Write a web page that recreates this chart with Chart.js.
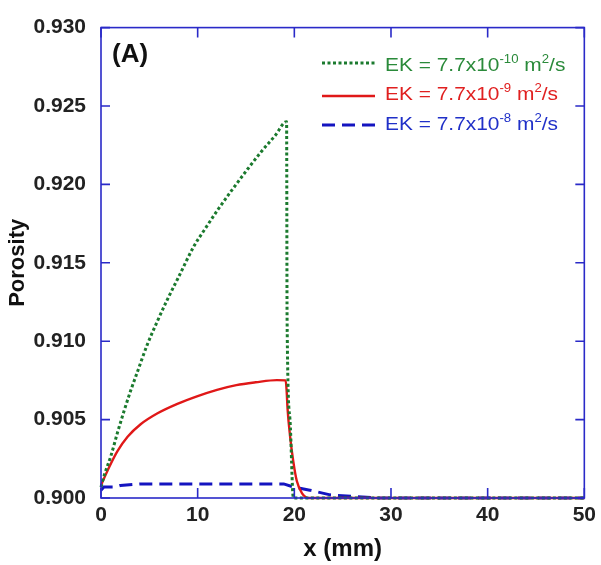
<!DOCTYPE html>
<html>
<head>
<meta charset="utf-8">
<script src="https://cdn.jsdelivr.net/npm/chart.js@4.4.1/dist/chart.umd.min.js"></script>
<style>
html,body{margin:0;padding:0;background:#fff;}
#wrap{width:601px;height:565px;}
</style>
</head>
<body>
<div id="wrap"><canvas id="c" width="601" height="565"></canvas></div>
<script>
// ---- data ----
const greenX = [0, 0.35, 1.03, 1.72, 2.41, 3.1, 3.8, 4.8, 5.85, 6.9, 7.95, 9.65, 10.7, 12.1, 13.5, 15.2, 16.6, 18.0, 19.2, 19.25, 19.55, 19.9, 50];
const greenY = [0.9007, 0.90148, 0.9027, 0.9042, 0.9056, 0.9069, 0.9081, 0.9098, 0.9113, 0.9127, 0.9140, 0.9161, 0.9171, 0.9184, 0.9196, 0.9210, 0.9221, 0.9231, 0.9240, 0.9115, 0.9050, 0.9000, 0.9000];

const redX = [0, 0.35, 1.03, 1.72, 2.75, 4.1, 5.85, 7.9, 10, 12, 14, 16, 18.2, 19.1, 19.2, 19.3, 19.55, 19.9, 20.25, 20.8, 21.5, 50];
const redY = [0.9008, 0.9013, 0.9022, 0.9030, 0.9039, 0.9047, 0.9054, 0.9060, 0.9065, 0.9069, 0.9072, 0.90738, 0.90752, 0.9075, 0.9069, 0.9057, 0.9040, 0.9023, 0.9011, 0.9003, 0.9000, 0.9000];

const blueX = [0, 0.3, 1.5, 2.0, 4.0, 10, 15, 18.9, 19.9, 21.6, 23.7, 26.1, 28.5, 50];
const blueY = [0.9005, 0.9007, 0.9007, 0.9008, 0.9009, 0.9009, 0.9009, 0.9009, 0.9007, 0.9005, 0.9002, 0.9001, 0.9000, 0.9000];

const xTicks = [0, 10, 20, 30, 40, 50];
const yTicks = [0.900, 0.905, 0.910, 0.915, 0.920, 0.925, 0.930];

const legendRows = [
  {base: 'EK = 7.7x10', exp: '-10'},
  {base: 'EK = 7.7x10', exp: '-9'},
  {base: 'EK = 7.7x10', exp: '-8'}
];
// ---------------------------------------

const zip = (xs, ys) => xs.map((x, i) => ({x: x, y: ys[i]}));
const FONT = '"Liberation Sans", Arial, Helvetica, sans-serif';
const AXIS = '#2a2ac8';
const styles = [
  {line: '#1b7a2e', text: '#2a8a3a', dash: [3, 2.5], width: 3, mono: true},
  {line: '#e01818', text: '#e02020', dash: [], width: 2.4, mono: true},
  {line: '#1414c0', text: '#2030c8', dash: [13, 7], width: 3, mono: false}
];

const framePlugin = {
  id: 'frame',
  afterDatasetsDraw(chart) {
    const {ctx, chartArea: a, scales} = chart;
    ctx.save();
    ctx.strokeStyle = AXIS;
    ctx.lineWidth = 1.6;
    ctx.strokeRect(a.left, a.top, a.right - a.left, a.bottom - a.top);
    ctx.beginPath();
    yTicks.forEach(v => {
      const y = scales.y.getPixelForValue(v);
      ctx.moveTo(a.left, y); ctx.lineTo(a.left + 9, y);
      ctx.moveTo(a.right, y); ctx.lineTo(a.right - 9, y);
    });
    xTicks.forEach(v => {
      const x = scales.x.getPixelForValue(v);
      ctx.moveTo(x, a.bottom); ctx.lineTo(x, a.bottom - 10);
      ctx.moveTo(x, a.top); ctx.lineTo(x, a.top + 10);
    });
    ctx.stroke();
    ctx.restore();
  },
  afterDraw(chart) {
    const {ctx, chartArea: a} = chart;
    ctx.save();
    // panel label
    ctx.fillStyle = '#111';
    ctx.font = 'bold 26px ' + FONT;
    ctx.textBaseline = 'alphabetic';
    ctx.fillText('(A)', a.left + 11, a.top + 34);
    // legend
    const lineY = [63, 96, 125];
    const baseY = [71, 100, 130];
    const lineX0 = 322, lineX1 = 375, textX = 385;
    const SX = 1.1;
    legendRows.forEach((r, i) => {
      const s = styles[i];
      ctx.beginPath();
      ctx.strokeStyle = s.line;
      ctx.lineWidth = s.width;
      ctx.setLineDash(s.dash);
      ctx.moveTo(lineX0, lineY[i]); ctx.lineTo(lineX1, lineY[i]);
      ctx.stroke();
      ctx.setLineDash([]);
      ctx.save();
      ctx.translate(textX, baseY[i]);
      ctx.scale(SX, 1);
      ctx.fillStyle = s.text;
      let x = 0;
      const parts = [[r.base, 19, 0], [r.exp, 12, -8], [' m', 19, 0], ['2', 12, -8], ['/s', 19, 0]];
      parts.forEach(p => {
        ctx.font = p[1] + 'px ' + FONT;
        ctx.fillText(p[0], x, p[2]);
        x += ctx.measureText(p[0]).width;
      });
      ctx.restore();
    });
    ctx.restore();
  }
};

new Chart(document.getElementById('c'), {
  type: 'line',
  data: {
    datasets: [0, 1, 2].map(i => {
      const xs = [greenX, redX, blueX][i], ys = [greenY, redY, blueY][i], s = styles[i];
      const d = {data: zip(xs, ys), borderColor: s.line, borderWidth: s.width, borderDash: s.dash,
        pointRadius: 0, fill: false, tension: 0, clip: 6};
      if (s.mono) d.cubicInterpolationMode = 'monotone';
      return d;
    })
  },
  options: {
    responsive: false,
    animation: false,
    devicePixelRatio: 1,
    layout: {padding: {left: 0, right: 16, top: 17, bottom: 0}},
    plugins: {legend: {display: false}, tooltip: {enabled: false}},
    scales: {
      x: {
        type: 'linear', min: 0, max: 50,
        afterBuildTicks: s => { s.ticks = xTicks.map(v => ({value: v})); },
        afterFit: s => { s.height = 67; },
        grid: {display: false, drawTicks: false},
        border: {display: false},
        ticks: {color: '#222', font: {family: FONT, size: 21, weight: 'bold'}, padding: 5, maxRotation: 0},
        title: {display: true, text: 'x (mm)', color: '#111', font: {family: FONT, size: 24, weight: 'bold'}, padding: {top: 0, bottom: 1}}
      },
      y: {
        type: 'linear', min: 0.9, max: 0.93,
        afterBuildTicks: s => { s.ticks = yTicks.map(v => ({value: v})); },
        afterFit: s => { s.width = 101; },
        grid: {display: false, drawTicks: false},
        border: {display: false},
        ticks: {color: '#222', font: {family: FONT, size: 21, weight: 'bold'}, padding: 15, callback: v => v.toFixed(3)},
        title: {display: true, text: 'Porosity', color: '#111', font: {family: FONT, size: 22, weight: 'bold'}, padding: {top: 5, bottom: 0}}
      }
    }
  },
  plugins: [framePlugin]
});
</script>
</body>
</html>
